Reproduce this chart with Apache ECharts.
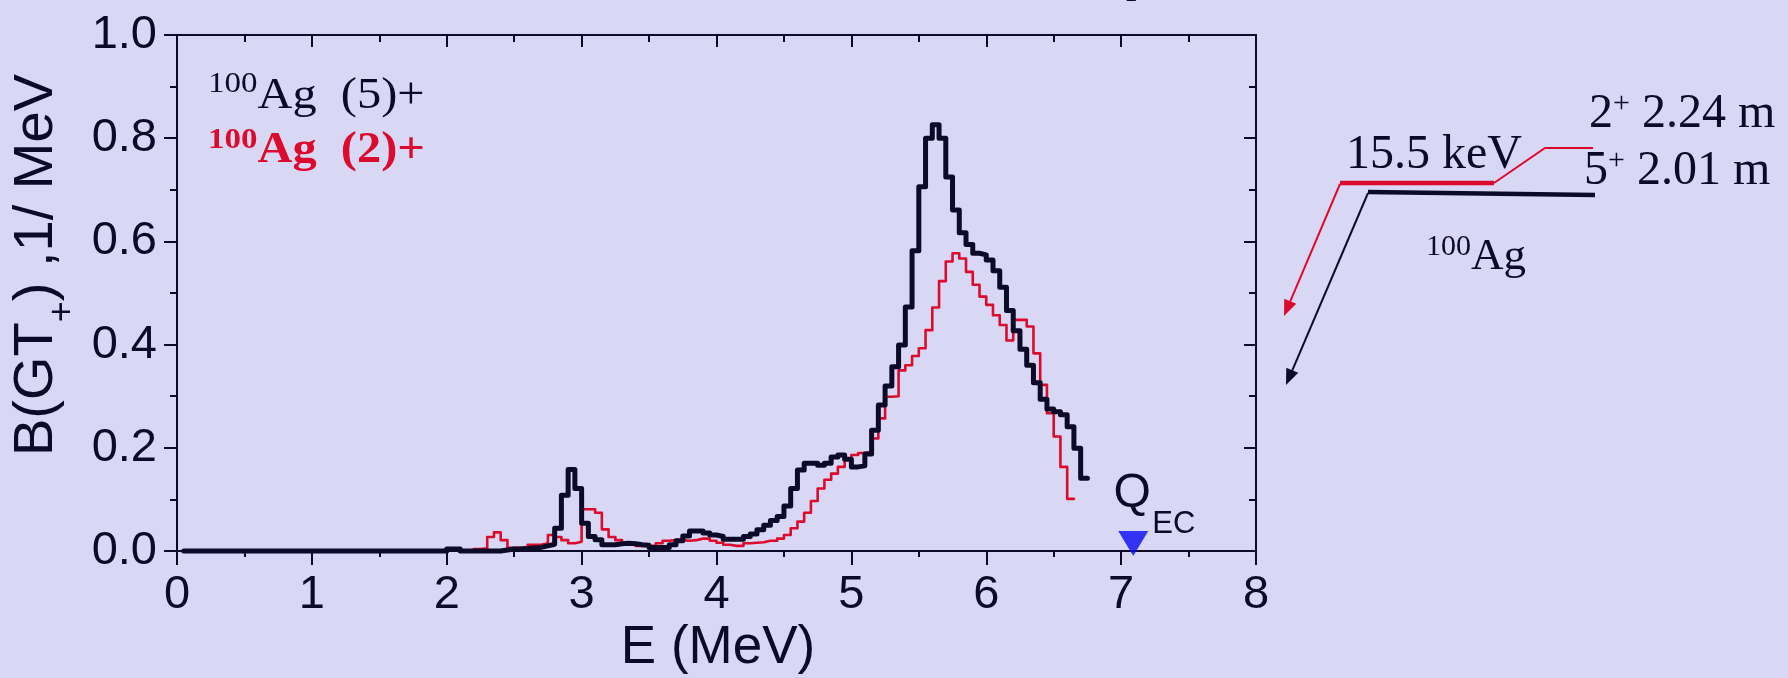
<!DOCTYPE html>
<html>
<head>
<meta charset="utf-8">
<script src="https://cdn.jsdelivr.net/npm/echarts@6/dist/echarts.min.js"></script>
<style>
html, body { margin: 0; padding: 0; background: #D8D8F4; }
#chart { width: 1788px; height: 678px; }
</style>
</head>
<body>
<div id="chart"></div>
<script>
// B(GT+) strength distributions of 100Ag, histogrammed in 0.05 MeV bins
const binWidth = 0.05;

// (5)+ ground state: flat zero line from 0.05 MeV, then bins from 2.00 MeV
const blackZeroStart = 0.05;
const blackStart = 2.00;
const blackValues = [
  0.004, 0.004, 0, 0, 0, 0, 0, 0, 0.002, 0.004,
  0.004, 0.005, 0.006, 0.007, 0.010, 0.013, 0.044, 0.108, 0.158, 0.121,
  0.054, 0.028, 0.022, 0.012, 0.012, 0.014, 0.015, 0.014, 0.012, 0.011,
  0.007, 0.007, 0.007, 0.012, 0.020, 0.029, 0.039, 0.039, 0.035, 0.031,
  0.028, 0.023, 0.023, 0.023, 0.028, 0.033, 0.041, 0.050, 0.059, 0.067,
  0.087, 0.121, 0.157, 0.170, 0.170, 0.166, 0.170, 0.182, 0.186, 0.178,
  0.163, 0.165, 0.188, 0.234, 0.283, 0.320, 0.357, 0.399, 0.473, 0.582,
  0.706, 0.800, 0.826, 0.800, 0.725, 0.661, 0.617, 0.594, 0.577, 0.574,
  0.564, 0.543, 0.511, 0.466, 0.427, 0.391, 0.360, 0.326, 0.294, 0.275,
  0.270, 0.264, 0.241, 0.199, 0.141
];

// (2)+ isomer: bins from 2.15 MeV
const redStart = 2.15;
const redValues = [
  0, 0.004, 0.005, 0.027, 0.036, 0.021, 0.006,
  0.006, 0.007, 0.012, 0.012, 0.015, 0.031, 0.027, 0.021, 0.015, 0.018,
  0.081, 0.081, 0.074, 0.042, 0.027, 0.021, 0.015, 0.014, 0.010, 0.010,
  0.010, 0.015, 0.020, 0.021, 0.021, 0.020, 0.021, 0.024, 0.024, 0.020,
  0.016, 0.012, 0.010, 0.010, 0.015, 0.016, 0.017, 0.020, 0.020, 0.024,
  0.031, 0.044, 0.057, 0.074, 0.097, 0.121, 0.138, 0.150, 0.163, 0.178,
  0.186, 0.190, 0.192, 0.218, 0.257, 0.299, 0.300, 0.350, 0.360, 0.378,
  0.393, 0.428, 0.472, 0.523, 0.561, 0.577, 0.567, 0.541, 0.516, 0.493,
  0.477, 0.457, 0.438, 0.408, 0.448, 0.448, 0.435, 0.383, 0.322, 0.267,
  0.222, 0.163, 0.101
];

// decay energy window
const qEC = 7.09;

const xTickLabels = ['0', '1', '2', '3', '4', '5', '6', '7', '8'];
const yTickLabels = ['0.0', '0.2', '0.4', '0.6', '0.8', '1.0'];

const ink = '#0B0B28';
const red = '#DC0A2C';
const blue = '#0A0AF5';
const sans = '"Liberation Sans", Arial, sans-serif';
const serif = '"Liberation Serif", "Times New Roman", serif';

// turn bin lists into step-line points (left edge + value, closing at the last right edge)
function stepPoints(start, values) {
  const pts = values.map((v, i) => [+(start + i * binWidth).toFixed(3), v]);
  pts.push([+(start + values.length * binWidth).toFixed(3), values[values.length - 1]]);
  return pts;
}
const blackPts = [[blackZeroStart, 0]].concat(stepPoints(blackStart, blackValues));
const redPts = stepPoints(redStart, redValues);

function axisLineStyle() { return { show: true, onZero: false, lineStyle: { color: ink, width: 2 } }; }

const chart = echarts.init(document.getElementById('chart'), null, { renderer: 'canvas' });

chart.setOption({
  backgroundColor: '#D8D8F4',
  animation: false,
  grid: { left: 177, right: 532, top: 35, bottom: 127, containLabel: false, outerBoundsMode: 'none' },
  xAxis: [
    {
      type: 'value', position: 'bottom', min: 0, max: 8, interval: 1,
      axisLine: axisLineStyle(),
      axisTick: { show: true, inside: false, length: 14, lineStyle: { color: ink, width: 2 } },
      minorTick: { show: true, splitNumber: 2, length: 6, lineStyle: { color: ink, width: 2 } },
      splitLine: { show: false }, minorSplitLine: { show: false },
      axisLabel: {
        show: true, margin: 21, color: ink, fontSize: 47, fontFamily: sans,
        showMinLabel: true, showMaxLabel: true,
        formatter: v => xTickLabels[Math.round(v)]
      }
    },
    {
      type: 'value', position: 'top', min: 0, max: 8, interval: 1,
      axisLine: axisLineStyle(),
      axisTick: { show: true, inside: true, length: 12, lineStyle: { color: ink, width: 2 } },
      minorTick: { show: true, splitNumber: 2, length: 7, lineStyle: { color: ink, width: 2 } },
      splitLine: { show: false }, axisLabel: { show: false }
    }
  ],
  yAxis: [
    {
      type: 'value', position: 'left', min: 0, max: 1, interval: 0.2,
      axisLine: axisLineStyle(),
      axisTick: { show: true, inside: false, length: 13, lineStyle: { color: ink, width: 2 } },
      minorTick: { show: true, splitNumber: 2, length: 7, lineStyle: { color: ink, width: 2 } },
      splitLine: { show: false }, minorSplitLine: { show: false },
      axisLabel: {
        show: true, margin: 20, color: ink, fontSize: 47, fontFamily: sans,
        showMinLabel: true, showMaxLabel: true,
        formatter: v => yTickLabels[Math.round(v / 0.2)]
      }
    },
    {
      type: 'value', position: 'right', min: 0, max: 1, interval: 0.2,
      axisLine: axisLineStyle(),
      axisTick: { show: true, inside: true, length: 12, lineStyle: { color: ink, width: 2 } },
      minorTick: { show: true, splitNumber: 2, length: 7, lineStyle: { color: ink, width: 2 } },
      splitLine: { show: false }, axisLabel: { show: false }
    }
  ],
  series: [
    {
      name: '100Ag (2)+', type: 'line', data: redPts, step: 'end',
      symbol: 'none', showSymbol: false, clip: false, z: 2,
      lineStyle: { color: red, width: 2.6, cap: 'round', join: 'round' }
    },
    {
      name: '100Ag (5)+', type: 'line', data: blackPts, step: 'end',
      symbol: 'none', showSymbol: false, clip: false, z: 3,
      lineStyle: { color: ink, width: 5, cap: 'round', join: 'round' }
    },
    {
      name: 'QEC', type: 'scatter', data: [[qEC, 0]], clip: false, z: 4, silent: true,
      symbol: 'triangle', symbolSize: [30, 25], symbolRotate: 180, symbolOffset: [0, -7.5],
      itemStyle: { color: blue }
    }
  ]
});

// ---- text and level-scheme overlay ----
const meas = document.createElement('canvas').getContext('2d');
function textWidth(t, size, family, weight) {
  meas.font = (weight || 'normal') + ' ' + size + 'px ' + family;
  return meas.measureText(t).width;
}
function txt(t, x, y, size, family, color, weight, align) {
  return {
    type: 'text', x: x, y: y, silent: true,
    style: {
      text: t, fill: color, font: (weight || 'normal') + ' ' + size + 'px ' + family,
      align: align || 'left', verticalAlign: 'middle',
      textAlign: align || 'left', textVerticalAlign: 'middle'
    }
  };
}
// a row of text pieces laid out left to right; each piece: [text, size, dy]
function row(pieces, x0, y0, family, color, weight) {
  let x = x0;
  return pieces.map(p => {
    const el = txt(p[0], x, y0 + (p[2] || 0), p[1], family, color, weight);
    x += textWidth(p[0], p[1], family, weight);
    return el;
  });
}
function rowWidth(pieces, family, weight) {
  return pieces.reduce((s, p) => s + textWidth(p[0], p[1], family, weight), 0);
}
function arrow(x1, y1, x2, y2, color, len, half) {
  const dx = x2 - x1, dy = y2 - y1, d = Math.hypot(dx, dy);
  const ux = dx / d, uy = dy / d;
  const bx = x2 - ux * len, by = y2 - uy * len;
  return [
    { type: 'line', silent: true, shape: { x1: x1, y1: y1, x2: bx, y2: by }, style: { stroke: color, lineWidth: 2 } },
    { type: 'polygon', silent: true,
      shape: { points: [[x2, y2], [bx - uy * half, by + ux * half], [bx + uy * half, by - ux * half]] },
      style: { fill: color } }
  ];
}

const graphics = [];

// series labels, upper left
const legendRows = [
  { color: ink, weight: 'normal', mid: 96, supMid: 84, tail: 'Ag  (5)+' },
  { color: red, weight: 'bold', mid: 151, supMid: 140, tail: 'Ag  (2)+' }
];
legendRows.forEach(r => {
  graphics.push({
    type: 'group', x: 208, y: 0, scaleX: 1.1, silent: true,
    children: row([['100', 30, r.supMid - r.mid], [r.tail, 44, 0]], 0, r.mid, serif, r.color, r.weight)
  });
});

// y axis title with subscript
const yTitle = [['B(GT', 56, 0], ['+', 36, 26], [') ,1/ MeV', 56, 0]];
const yTitleW = rowWidth(yTitle, sans, 'normal');
graphics.push({
  type: 'group', x: 37, y: 265, rotation: Math.PI / 2, silent: true,
  children: row(yTitle, -yTitleW / 2, 0, sans, ink, 'normal')
});

// x axis title
graphics.push(txt('E (MeV)', 718, 648, 53, sans, ink, 'normal', 'center'));

// Q_EC marker text, tied to the triangle position
const qPix = chart.convertToPixel({ xAxisIndex: 0, yAxisIndex: 0 }, [qEC, 0]);
graphics.push(txt('Q', qPix[0] - 1, 494, 48, sans, ink, 'normal', 'center'));
graphics.push(txt('EC', qPix[0] + 19, 524, 31, sans, ink, 'normal', 'left'));

// level scheme of 100Ag
graphics.push({ type: 'line', silent: true, shape: { x1: 1340, y1: 183, x2: 1494, y2: 183 }, style: { stroke: red, lineWidth: 4.5 } });
graphics.push({ type: 'polyline', silent: true, shape: { points: [[1494, 183], [1545, 148], [1593, 148]] }, style: { stroke: red, lineWidth: 2, fill: null } });
graphics.push({ type: 'line', silent: true, shape: { x1: 1368, y1: 192, x2: 1595, y2: 195 }, style: { stroke: ink, lineWidth: 4.5 } });
arrow(1340, 184, 1284, 316, red, 16, 6.5).forEach(e => graphics.push(e));
arrow(1368, 193, 1286, 385, ink, 16, 6.5).forEach(e => graphics.push(e));

graphics.push(txt('15.5 keV', 1346, 155, 48, serif, ink, 'normal', 'left'));
row([['2', 48, 0], ['+', 30, -10], [' 2.24 m', 48, 0]], 1589, 114, serif, ink, 'normal').forEach(e => graphics.push(e));
row([['5', 48, 0], ['+', 30, -10], [' 2.01 m', 48, 0]], 1584, 171, serif, ink, 'normal').forEach(e => graphics.push(e));
row([['100', 30, -10], ['Ag', 45, 0]], 1426, 257, serif, ink, 'normal').forEach(e => graphics.push(e));

// descender of the heading line above the frame
graphics.push(txt('p', 1126, -19, 42, serif, ink, 'normal', 'left'));

chart.setOption({ graphic: graphics });
</script>
</body>
</html>
